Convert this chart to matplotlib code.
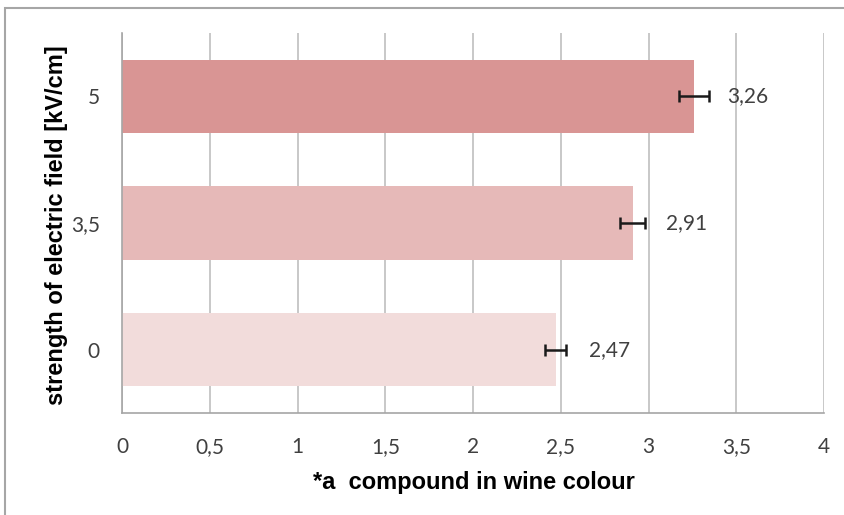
import matplotlib
matplotlib.use("Agg")
import matplotlib.pyplot as plt
from matplotlib.patches import Rectangle

# data
fields = ['0', '3,5', '5']
values = [2.47, 2.91, 3.26]
errors = [0.062, 0.072, 0.085]
labels = ['2,47', '2,91', '3,26']
colors = ['#F2DCDB', '#E6B9B8', '#D99594']
xticks = [0, 0.5, 1, 1.5, 2, 2.5, 3, 3.5, 4]
xtick_labels = ['0', '0,5', '1', '1,5', '2', '2,5', '3', '3,5', '4']

fig = plt.figure(figsize=(8.45, 5.15), dpi=100)
ax = fig.add_axes([0.1444, 0.198, 0.8308, 0.738])

# chart frame (left and top edges visible)
fig.patches.append(Rectangle((5 / 845, -0.05), 1.2, 1 - 8 / 515 + 0.05,
                             transform=fig.transFigure, fill=False,
                             edgecolor='#A6A6A6', linewidth=1.5))

pos = range(len(fields))
ax.barh(pos, values, height=0.58, color=colors, zorder=2)
ax.errorbar(values, pos, xerr=errors, fmt='none', ecolor='#1a1a1a',
            elinewidth=1.8, capsize=4.5, capthick=1.8, zorder=3)
for i in pos:
    ax.text(values[i] + 0.19, i, labels[i], ha='left', va='center',
            fontsize=15, color='#404040', family='Lato')

ax.set_xlim(0, 4)
ax.set_ylim(-0.5, 2.5)
ax.set_xticks(xticks)
ax.set_xticklabels(xtick_labels, family='Lato', fontsize=15, color='#404040')
ax.set_yticks(list(pos))
ax.set_yticklabels(fields, family='Lato', fontsize=15, color='#404040')
ax.tick_params(axis='x', length=0, pad=17)
ax.tick_params(axis='y', length=0, pad=16)
ax.grid(axis='x', color='#BFBFBF', linewidth=1.2, zorder=0)
ax.set_axisbelow(True)
for s in ['top', 'right']:
    ax.spines[s].set_visible(False)
for s in ['left', 'bottom']:
    ax.spines[s].set_color('#A6A6A6')
    ax.spines[s].set_linewidth(1.2)

fig.text(474 / 845, 1 - 482 / 515, '*a  compound in wine colour',
         ha='center', va='center', fontsize=17, fontweight='bold',
         family='Liberation Sans')
fig.text(57 / 845, 1 - 225 / 515, 'strength of electric field [kV/cm]',
         rotation=90, ha='center', va='center', fontsize=17,
         fontweight='bold', family='Liberation Sans')

fig.savefig('out.png', dpi=100)
